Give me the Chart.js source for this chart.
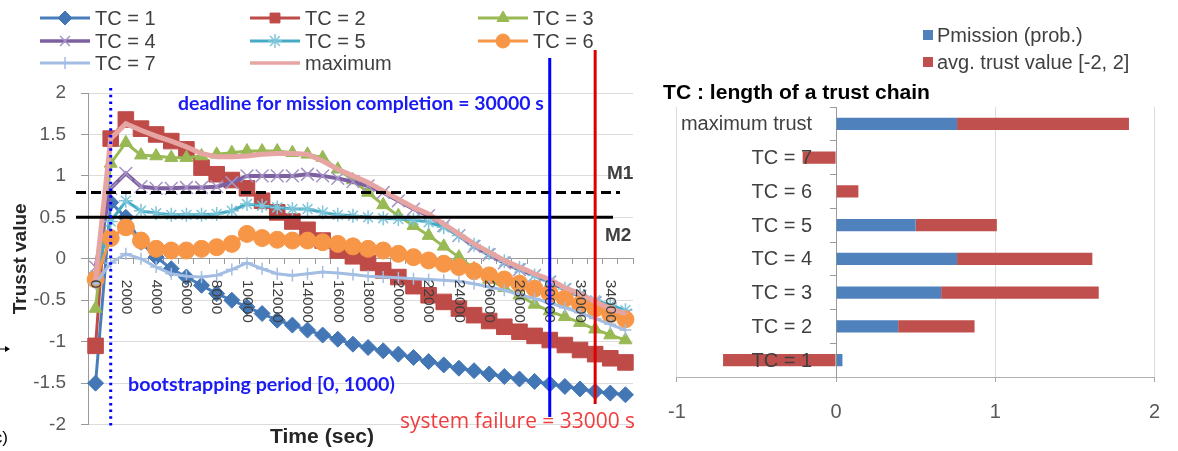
<!DOCTYPE html>
<html><head><meta charset="utf-8">
<script src="https://cdn.jsdelivr.net/npm/chart.js@4.4.1/dist/chart.umd.min.js"></script>
<style>
html,body{margin:0;padding:0;background:#fff;overflow:hidden;}
#wrap{position:relative;width:1178px;height:451px;}
#c1{position:absolute;left:0;top:0;}
#c2{position:absolute;left:650px;top:0;}
</style></head><body>
<div id="wrap"><canvas id="c1" width="650" height="451"></canvas><canvas id="c2" width="528" height="451"></canvas></div>
<script>
// ---------- data: left chart ----------
const timeLabels = [0,1000,2000,3000,4000,5000,6000,7000,8000,9000,10000,11000,12000,13000,14000,15000,16000,17000,18000,19000,20000,21000,22000,23000,24000,25000,26000,27000,28000,29000,30000,31000,32000,33000,34000,35000];
const seriesNames = ['TC = 1','TC = 2','TC = 3','TC = 4','TC = 5','TC = 6','TC = 7','maximum'];
const tc1 = [-1.5,0.68,0.5,0.2,0.02,-0.12,-0.22,-0.32,-0.42,-0.5,-0.58,-0.66,-0.74,-0.8,-0.86,-0.92,-0.97,-1.03,-1.07,-1.11,-1.15,-1.19,-1.24,-1.28,-1.32,-1.35,-1.39,-1.42,-1.45,-1.48,-1.51,-1.54,-1.57,-1.6,-1.62,-1.64];
const tc2 = [-1.05,1.45,1.68,1.57,1.5,1.42,1.32,1.1,1.02,0.95,0.85,0.7,0.56,0.45,0.35,0.22,0.1,0.03,-0.05,-0.14,-0.22,-0.33,-0.44,-0.52,-0.6,-0.68,-0.75,-0.82,-0.88,-0.93,-0.98,-1.04,-1.1,-1.15,-1.2,-1.25];
const tc3 = [-0.6,1.15,1.4,1.25,1.24,1.22,1.22,1.24,1.26,1.28,1.3,1.3,1.3,1.28,1.26,1.22,1.08,0.95,0.8,0.65,0.52,0.4,0.28,0.15,0.02,-0.12,-0.25,-0.35,-0.44,-0.55,-0.63,-0.7,-0.77,-0.85,-0.92,-0.98];
const tc4 = [-0.1,0.85,1.03,0.87,0.85,0.85,0.86,0.86,0.87,0.92,1.0,1.0,1.0,1.0,1.02,1.0,0.97,0.93,0.88,0.8,0.7,0.6,0.52,0.4,0.28,0.15,0.05,-0.05,-0.13,-0.2,-0.28,-0.37,-0.45,-0.53,-0.6,-0.68];
const tc5 = [-0.2,0.45,0.7,0.58,0.55,0.53,0.53,0.53,0.54,0.58,0.66,0.64,0.62,0.6,0.6,0.56,0.53,0.52,0.5,0.49,0.48,0.47,0.44,0.38,0.28,0.17,0.07,-0.03,-0.11,-0.2,-0.27,-0.36,-0.43,-0.5,-0.56,-0.62];
const tc6 = [-0.25,0.25,0.38,0.22,0.12,0.1,0.1,0.12,0.14,0.18,0.3,0.25,0.23,0.22,0.22,0.2,0.18,0.15,0.12,0.1,0.06,0.02,-0.02,-0.06,-0.1,-0.15,-0.2,-0.25,-0.3,-0.36,-0.42,-0.48,-0.55,-0.6,-0.67,-0.73];
const tc7 = [-0.3,-0.05,0.06,0.0,-0.1,-0.18,-0.21,-0.22,-0.2,-0.13,-0.05,-0.12,-0.18,-0.2,-0.18,-0.16,-0.17,-0.19,-0.21,-0.22,-0.23,-0.24,-0.25,-0.26,-0.27,-0.3,-0.34,-0.38,-0.43,-0.48,-0.53,-0.59,-0.65,-0.72,-0.79,-0.86];
const maxTrust = [-0.25,1.45,1.63,1.55,1.48,1.42,1.35,1.27,1.23,1.23,1.24,1.26,1.27,1.27,1.26,1.18,1.08,1.0,0.92,0.82,0.72,0.62,0.54,0.42,0.3,0.18,0.08,-0.02,-0.1,-0.18,-0.25,-0.35,-0.42,-0.52,-0.6,-0.66];
const yTickValues = [-2,-1.5,-1,-0.5,0,0.5,1,1.5,2];
const bootstrapEnd = 1000, deadline = 30000, failure = 33000;
const m1Value = 0.8, m2Value = 0.5;

// ---------- data: right chart ----------
const barCategories = ['maximum trust','TC = 7','TC = 6','TC = 5','TC = 4','TC = 3','TC = 2','TC = 1'];
const pmission = [0.76,0,0,0.5,0.76,0.66,0.39,0.04];
const avgTrust = [1.08,-0.21,0.14,0.51,0.85,0.99,0.48,-0.71];
const barTickValues = [-1,0,1,2];

// ---------- styles ----------
const FAM = "'Liberation Sans', Arial, sans-serif";
const styles = [
  {line:'#4A7EBB', pt:'#4276B5', ptBorder:'#4276B5', style:'rectRot', r:8, bw:3, pbw:1},
  {line:'#BE4B48', pt:'#BE4B48', ptBorder:'#BE4B48', style:'rect', r:11, bw:3, pbw:1},
  {line:'#98B954', pt:'#98B954', ptBorder:'#98B954', style:'triangle', r:7.5, bw:3, pbw:1},
  {line:'#7D60A0', pt:'#A593C4', ptBorder:'#A593C4', style:'crossRot', r:9, bw:4, pbw:1.5},
  {line:'#46AAC5', pt:'#7FC6DA', ptBorder:'#7FC6DA', style:'star', r:7, bw:3, pbw:1.5},
  {line:'#F79646', pt:'#F79646', ptBorder:'#F79646', style:'circle', r:8.5, bw:3, pbw:1},
  {line:'#A3BDE3', pt:'#A3BDE3', ptBorder:'#A3BDE3', style:'cross', r:6, bw:3, pbw:1.5},
  {line:'#E6A5A3', pt:'#E6A5A3', ptBorder:'#E6A5A3', style:'line', r:3, bw:5, pbw:1.5}
];
const seriesValues = [tc1,tc2,tc3,tc4,tc5,tc6,tc7,maxTrust];

function fitFont(ctx, text, weight, family, target, base){
  ctx.font = weight + ' ' + base + 'px ' + family;
  const w = ctx.measureText(text).width;
  const size = base * target / w;
  ctx.font = weight + ' ' + size.toFixed(2) + 'px ' + family;
}

const H = Chart.helpers;

const leftDecor = {
  id:'leftDecor',
  afterDatasetsDraw(chart){
    const {ctx, scales:{x, y}, chartArea} = chart;
    ctx.save();
    // x tick labels (rotated clockwise, every 2nd category)
    ctx.font = '15.5px ' + FAM;
    ctx.fillStyle = '#404040';
    ctx.textAlign = 'left';
    ctx.textBaseline = 'middle';
    const y0 = y.getPixelForValue(0);
    timeLabels.forEach((t, i) => {
      if (i % 2) return;
      const px = x.getPixelForValue(i);
      ctx.save();
      ctx.translate(px, y0 + 21);
      ctx.rotate(Math.PI/2);
      ctx.fillText(String(t), 0, 0);
      ctx.restore();
    });
    // horizontal thresholds
    const left = chartArea.left;
    ctx.strokeStyle = '#000';
    ctx.lineWidth = 3;
    ctx.setLineDash([10,5]);
    const ym1 = y.getPixelForValue(m1Value);
    ctx.beginPath(); ctx.moveTo(left - 12, ym1); ctx.lineTo(chartArea.right - 13, ym1); ctx.stroke();
    ctx.setLineDash([]);
    const ym2 = y.getPixelForValue(m2Value);
    ctx.beginPath(); ctx.moveTo(left - 12, ym2); ctx.lineTo(chartArea.right - 20, ym2); ctx.stroke();
    // vertical lines
    const xb = x.getPixelForValue(timeLabels.indexOf(bootstrapEnd));
    ctx.strokeStyle = '#0000FF';
    ctx.lineWidth = 3;
    ctx.setLineDash([2.5,4.2]);
    ctx.beginPath(); ctx.moveTo(xb, chartArea.top - 5); ctx.lineTo(xb, chartArea.bottom + 3); ctx.stroke();
    ctx.setLineDash([]);
    const xd = x.getPixelForValue(timeLabels.indexOf(deadline));
    ctx.beginPath(); ctx.moveTo(xd, 58); ctx.lineTo(xd, 417); ctx.stroke();
    const xf = x.getPixelForValue(timeLabels.indexOf(failure));
    ctx.strokeStyle = '#DD0000';
    ctx.beginPath(); ctx.moveTo(xf, 50); ctx.lineTo(xf, 404); ctx.stroke();
    // texts
    ctx.textBaseline = 'middle';
    ctx.textAlign = 'left';
    ctx.fillStyle = '#1A1AF5';
    fitFont(ctx, 'deadline for mission completion = 30000 s', 'bold', "Lato, 'Open Sans', sans-serif", 366, 17);
    ctx.fillText('deadline for mission completion = 30000 s', 178, 104);
    fitFont(ctx, 'bootstrapping period [0, 1000)', 'bold', "Lato, 'Open Sans', sans-serif", 267, 17);
    ctx.fillText('bootstrapping period [0, 1000)', 128, 385);
    ctx.fillStyle = '#F03C3C';
    fitFont(ctx, 'system failure = 33000 s', 'normal', "'Open Sans', Lato, sans-serif", 235, 18);
    ctx.fillText('system failure = 33000 s', 400, 422);
    ctx.fillStyle = '#404040';
    ctx.font = 'bold 19px ' + FAM;
    ctx.fillText('M1', 607, 174);
    ctx.fillText('M2', 605, 236);
    ctx.fillStyle = '#262626';
    fitFont(ctx, 'Time (sec)', 'bold', FAM, 104, 19);
    ctx.fillText('Time (sec)', 270, 437);
    ctx.restore();
  },
  afterDraw(chart){
    const {ctx} = chart;
    ctx.save();
    const colX = [40, 250, 478], rowY = [18, 41, 63];
    chart.data.datasets.forEach((ds, i) => {
      const st = styles[i];
      const x0 = colX[i % 3], yy = rowY[Math.floor(i / 3)];
      ctx.strokeStyle = st.line; ctx.lineWidth = Math.min(st.bw, 3.5);
      ctx.beginPath(); ctx.moveTo(x0, yy); ctx.lineTo(x0 + 50, yy); ctx.stroke();
      ctx.fillStyle = st.pt; ctx.strokeStyle = st.ptBorder; ctx.lineWidth = st.pbw;
      H.drawPoint(ctx, {pointStyle: st.style, radius: Math.min(st.r, 7), rotation: 0, borderWidth: st.pbw}, x0 + 25, yy);
      ctx.fillStyle = '#404040';
      ctx.font = '20px ' + FAM;
      ctx.textAlign = 'left'; ctx.textBaseline = 'middle';
      ctx.fillText(ds.label, x0 + 55, yy + 1);
    });
    // cropped panel marker
    ctx.fillStyle = '#000';
    ctx.font = '17px ' + FAM;
    ctx.textAlign = 'right';
    ctx.fillText('c)', 8, 438);
    ctx.beginPath(); ctx.moveTo(0, 349); ctx.lineTo(8, 349); ctx.lineWidth = 1; ctx.strokeStyle = '#000'; ctx.stroke();
    ctx.beginPath(); ctx.moveTo(10, 349); ctx.lineTo(5, 346); ctx.lineTo(5, 352); ctx.closePath(); ctx.fill();
    ctx.restore();
  }
};

new Chart(document.getElementById('c1'), {
  type:'line',
  data:{
    labels: timeLabels,
    datasets: seriesNames.map((name, i) => ({
      label: name,
      data: seriesValues[i],
      borderColor: styles[i].line,
      borderWidth: styles[i].bw,
      backgroundColor: styles[i].pt,
      pointBackgroundColor: styles[i].pt,
      pointBorderColor: styles[i].ptBorder,
      pointBorderWidth: styles[i].pbw,
      pointStyle: styles[i].style,
      pointRadius: styles[i].r,
      tension: 0,
      order: seriesNames.length - i
    }))
  },
  options:{
    responsive:false, animation:false, events:[],
    layout:{padding:{left:0, top:93, right:17, bottom:24}},
    plugins:{legend:{display:false}, tooltip:{enabled:false}},
    scales:{
      x:{
        type:'category', offset:true, position:{y:0},
        grid:{drawOnChartArea:false, drawTicks:true, tickLength:5, color:'#9A9A9A', offset:true},
        border:{color:'#9A9A9A', width:1},
        ticks:{display:false, autoSkip:false}
      },
      y:{
        min:-2, max:2,
        afterBuildTicks: s => { s.ticks = yTickValues.map(v => ({value:v})); },
        ticks:{callback: v => String(v), color:'#595959', font:{size:19, family:FAM}, padding:15},
        grid:{color:'#DCDCDC', tickLength:7, tickColor:'#9A9A9A'},
        border:{color:'#9A9A9A'},
        title:{display:true, text:'Trusst value', color:'#262626', font:{size:19, weight:'bold', family:FAM}, padding:{top:9, bottom:0}},
        afterFit: s => { s.width = 88; }
      }
    }
  },
  plugins:[leftDecor]
});

const rightDecor = {
  id:'rightDecor',
  afterDatasetsDraw(chart){
    const {ctx, scales:{x, y}} = chart;
    ctx.save();
    ctx.fillStyle = '#404040';
    ctx.font = '20px ' + FAM;
    ctx.textAlign = 'right'; ctx.textBaseline = 'middle';
    const ax = x.getPixelForValue(0);
    barCategories.forEach((c, i) => {
      ctx.fillText(c, ax - 24, y.getPixelForValue(i) + 1);
    });
    ctx.restore();
  },
  afterDraw(chart){
    const {ctx} = chart;
    ctx.save();
    ctx.fillStyle = '#000';
    ctx.textAlign = 'left'; ctx.textBaseline = 'middle';
    fitFont(ctx, 'TC : length of a trust chain', 'bold', FAM, 267, 19);
    ctx.fillText('TC : length of a trust chain', 13, 93);
    const rows = [35, 62];
    chart.data.datasets.forEach((ds, i) => {
      ctx.fillStyle = ds.backgroundColor;
      ctx.fillRect(273, rows[i] - 5, 10, 10);
      ctx.fillStyle = '#404040';
      ctx.font = '20px ' + FAM;
      ctx.fillText(ds.label, 287, rows[i] + 1);
    });
    ctx.restore();
  }
};

new Chart(document.getElementById('c2'), {
  type:'bar',
  data:{
    labels: barCategories,
    datasets:[
      {label:'Pmission (prob.)', data:pmission, backgroundColor:'#4F81BD'},
      {label:'avg. trust value [-2, 2]', data:avgTrust, backgroundColor:'#C0504D'}
    ]
  },
  options:{
    indexAxis:'y', responsive:false, animation:false, events:[],
    layout:{padding:{left:19, top:107, right:17, bottom:0}},
    datasets:{bar:{categoryPercentage:0.8, barPercentage:0.45}},
    plugins:{legend:{display:false}, tooltip:{enabled:false}},
    scales:{
      x:{
        stacked:true, min:-1, max:2,
        afterBuildTicks: s => { s.ticks = barTickValues.map(v => ({value:v})); },
        ticks:{callback: v => String(v), color:'#595959', font:{size:20, family:FAM}, padding:18},
        grid:{color:'#DCDCDC', tickLength:5, tickColor:'#A6A6A6'},
        border:{color:'#B0B0B0'},
        afterFit: s => { s.height = 74; }
      },
      y:{
        stacked:true, position:{x:0},
        grid:{drawOnChartArea:false, offset:true, tickLength:6, color:'#9A9A9A'},
        border:{color:'#9A9A9A'},
        ticks:{display:false}
      }
    }
  },
  plugins:[rightDecor]
});
</script>
</body></html>
